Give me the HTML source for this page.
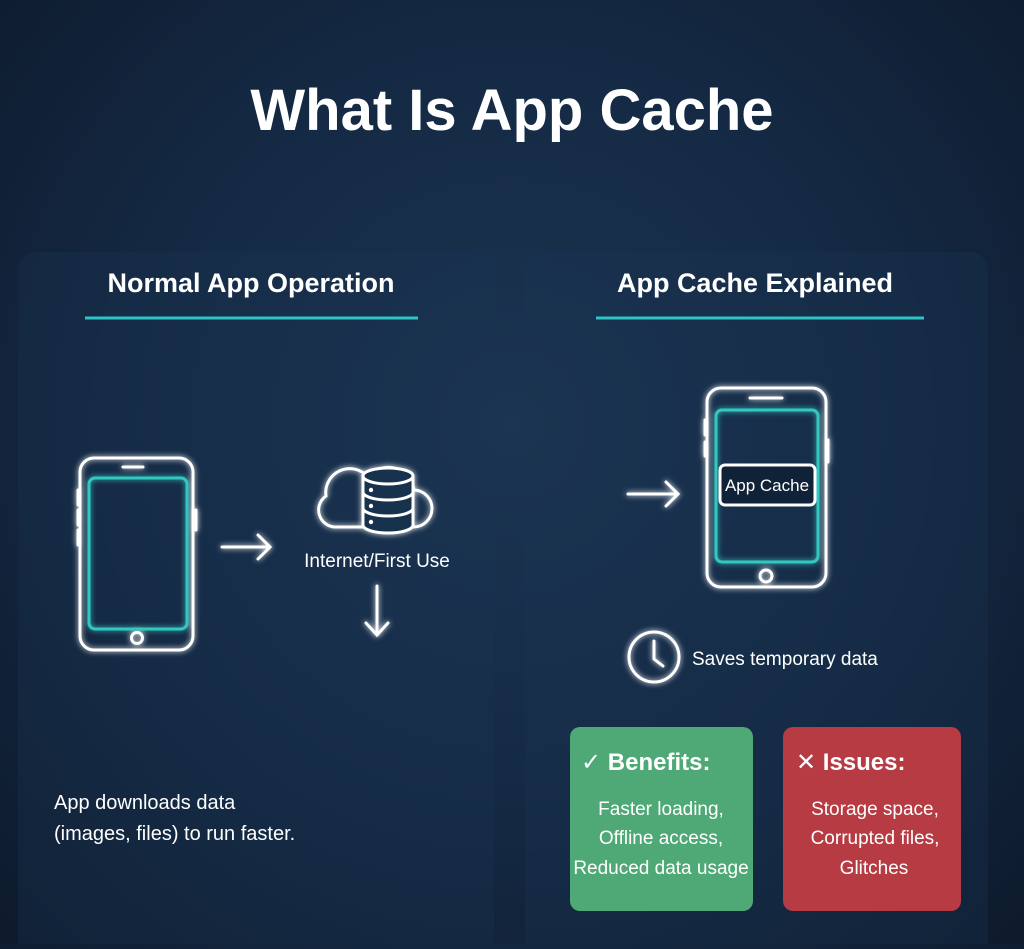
<!DOCTYPE html>
<html><head><meta charset="utf-8"><style>
html,body{margin:0;padding:0}
body{width:1024px;height:944px;overflow:hidden;background:radial-gradient(ellipse at 50% 45%,#1b3552 0%,#142842 55%,#0d1a2c 100%);font-family:"Liberation Sans","DejaVu Sans",sans-serif;}
</style></head><body>
<svg width="1024" height="944" viewBox="0 0 1024 944" xmlns="http://www.w3.org/2000/svg" font-family="Liberation Sans, DejaVu Sans, sans-serif">
<defs>
<filter id="g" x="-20%" y="-20%" width="140%" height="140%"><feGaussianBlur stdDeviation="3" result="b"/><feMerge><feMergeNode in="b"/><feMergeNode in="SourceGraphic"/></feMerge></filter>
</defs>
<rect x="18" y="252" width="476" height="720" rx="18" fill="#1c3553" opacity="0.3"/>
<rect x="525" y="252" width="463" height="720" rx="18" fill="#1c3553" opacity="0.3"/>
<text x="512" y="130" text-anchor="middle" font-size="58" font-weight="bold" fill="#fff">What Is App Cache</text>
<text x="251" y="292" text-anchor="middle" font-size="27" font-weight="bold" fill="#fff">Normal App Operation</text>
<line x1="85" y1="318" x2="418" y2="318" stroke="#2ec4c4" stroke-width="3"/>
<text x="755" y="292" text-anchor="middle" font-size="27" font-weight="bold" fill="#fff">App Cache Explained</text>
<line x1="596" y1="318" x2="924" y2="318" stroke="#2ec4c4" stroke-width="3"/>
<g fill="none" stroke="#fff" stroke-width="3" filter="url(#g)" stroke-linecap="round">
<rect x="80" y="458" width="113" height="192" rx="14"/>
<rect x="89" y="478" width="98" height="151" rx="6" stroke="#33c7c0"/>
<line x1="123" y1="467" x2="143" y2="467"/>
<circle cx="137" cy="638" r="5.5"/>
<line x1="78" y1="490" x2="78" y2="505"/><line x1="78" y1="510" x2="78" y2="525"/><line x1="78" y1="530" x2="78" y2="545"/>
<line x1="196" y1="510" x2="196" y2="530"/>
<path d="M222 547 H270 M258 535 L270 547 L258 559"/>
<path d="M362 527 H336 A17 17 0 0 1 326 496 A24 24 0 0 1 368 477 A26 26 0 0 1 414 490 A18 18 0 0 1 413 527 H412"/>
<path d="M363 476 A25 8 0 0 1 413 476 V525 A25 8 0 0 1 363 525 Z" fill="#16304d"/>
<path d="M363 476 A25 8 0 0 0 413 476 M363 492 A25 8 0 0 0 413 492 M363 508 A25 8 0 0 0 413 508"/>
<path d="M377 586 V634 M366 623 L377 635 L388 623"/>
<rect x="707" y="388" width="119" height="199" rx="14"/>
<rect x="716" y="410" width="102" height="152" rx="6" stroke="#33c7c0"/>
<line x1="750" y1="398" x2="782" y2="398"/>
<circle cx="766" cy="576" r="6"/>
<line x1="705" y1="420" x2="705" y2="435"/><line x1="705" y1="442" x2="705" y2="456"/>
<line x1="828" y1="440" x2="828" y2="462"/>
<path d="M628 494 H678 M666 482 L678 494 L666 506"/>
<circle cx="654" cy="657" r="25"/>
<path d="M654 641 V659 L663 666"/>
</g>
<g fill="#fff" stroke="none">
<circle cx="371" cy="490" r="2.2"/><circle cx="371" cy="506" r="2.2"/><circle cx="371" cy="522" r="2.2"/>
</g>
<rect x="720" y="465" width="95" height="40" rx="5" fill="#102238" stroke="#fff" stroke-width="3"/>
<text x="767" y="491" text-anchor="middle" font-size="17" fill="#fff">App Cache</text>
<text x="377" y="567" text-anchor="middle" font-size="19" fill="#fff">Internet/First Use</text>
<text x="692" y="665" font-size="19" fill="#fff">Saves temporary data</text>
<text x="54" y="809" font-size="20" fill="#fff">App downloads data</text>
<text x="54" y="840" font-size="20" fill="#fff">(images, files) to run faster.</text>
<rect x="570" y="727" width="183" height="184" rx="10" fill="#4fa977"/>
<rect x="783" y="727" width="178" height="184" rx="10" fill="#b63b43"/>
<text x="581" y="770" font-size="24" font-weight="bold" fill="#fff">✓ Benefits:</text>
<g font-size="19" fill="#fff" text-anchor="middle">
<text x="661" y="815">Faster loading,</text>
<text x="661" y="844">Offline access,</text>
<text x="661" y="874">Reduced data usage</text>
<text x="875" y="815">Storage space,</text>
<text x="875" y="844">Corrupted files,</text>
<text x="874" y="874">Glitches</text>
</g>
<text x="796" y="770" font-size="24" font-weight="bold" fill="#fff">✕  Issues:</text>
</svg>
</body></html>
